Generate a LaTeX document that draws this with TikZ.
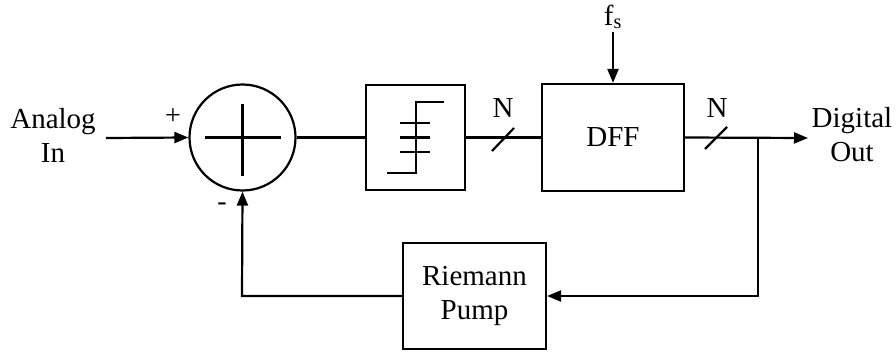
\documentclass[tikz,border=0pt]{standalone}
\usepackage{fontspec}
\setmainfont{Liberation Serif}
\usetikzlibrary{arrows.meta}
\begin{document}
\begin{tikzpicture}[x=1pt,y=-1pt,
  line width=2.2pt,
  lbl/.style={font=\fontsize{29}{34}\selectfont, align=center, inner sep=0pt},
  sgn/.style={font=\fontsize{28}{30}\selectfont, inner sep=0pt},
  blk/.style={draw, rectangle, inner sep=0pt},
  arr/.style={-{Triangle[length=14pt,width=11pt]}}
]
\useasboundingbox (0,0) rectangle (896,353);
% nodes
\node[lbl] (ain) at (53,135) {Analog\\In};
\node[lbl] (dout) at (852,135) {Digital\\Out};
\node[draw, circle, inner sep=0pt, minimum size=106pt] (sum) at (242.5,137.5) {};
\node[blk, minimum width=99pt, minimum height=105pt] (quant) at (415.5,137.5) {};
\node[blk, minimum width=142pt, minimum height=107pt, lbl] (dff) at (613,137.5) {DFF};
\node[blk, minimum width=143pt, minimum height=106pt, lbl] (rp) at (474.5,296) {Riemann\\Pump};
\node[lbl] (fs) at (613,17) {f\textsubscript{s}};
\coordinate (fstop) at (613,32);
\coordinate (inst) at (106,138);
\coordinate (outend) at (808,138);
\coordinate (br) at (758,138);
\coordinate (brdown) at (758,296);
\coordinate (fbcorner) at (242,296);
\node[sgn] (plus) at (173,117) {+};
\node[sgn] (minus) at (222,207) {-};
\node[lbl] (n1) at (503,108) {N};
\node[lbl] (n2) at (717,108) {N};
\coordinate (s1) at (503,139);
\coordinate (s2) at (716,138);
% cross in summer
\draw ([xshift=-38pt]sum.center) -- ([xshift=38pt]sum.center);
\draw ([yshift=-38pt]sum.center) -- ([yshift=34pt]sum.center);
% quantizer staircase
\draw (387,173) -- (416,173) -- (416,102) -- (444,102);
\draw (400,123) -- (430,123);
\draw (400,137.5) -- (430,137.5);
\draw (400,152) -- (430,152);
% connectors
\draw[arr] (inst) -- (sum.west);
\draw (sum.east) -- (quant.west);
\draw (quant.east) -- (dff.west);
\draw[arr] (fstop) -- (dff.north);
\draw[arr] (dff.east) -- (outend);
\draw[arr] (br) -- (brdown) -- (rp.east);
\draw[arr] (rp.west) -- (fbcorner) -- (sum.south);
% bus slashes
\draw ([shift={(-11,12)}]s1) -- ([shift={(11,-11)}]s1);
\draw ([shift={(-11,11)}]s2) -- ([shift={(11,-11)}]s2);
\end{tikzpicture}
\end{document}
